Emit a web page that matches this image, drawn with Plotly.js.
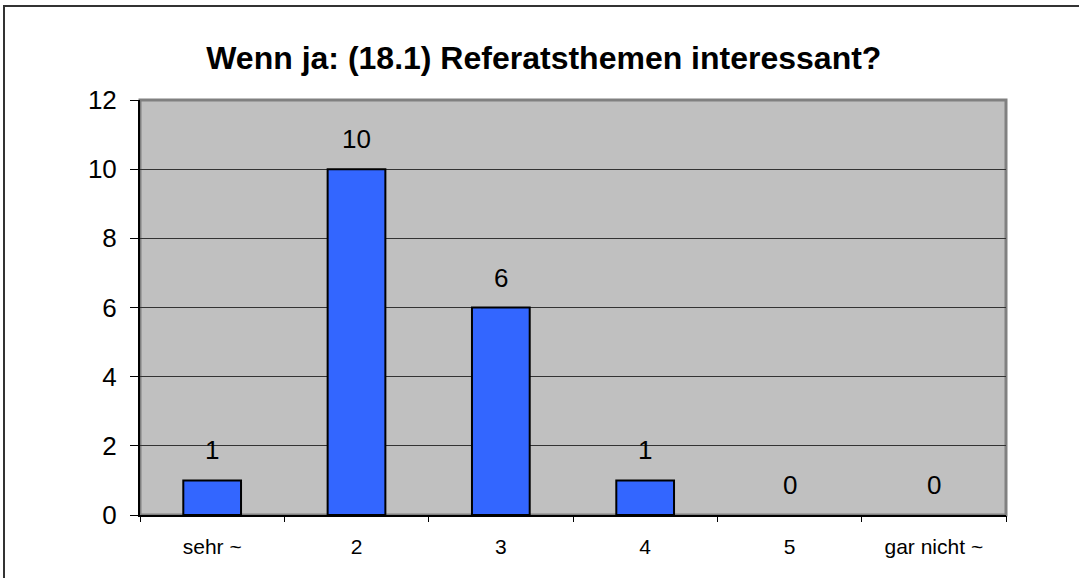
<!DOCTYPE html>
<html>
<head>
<meta charset="utf-8">
<script src="https://cdn.plot.ly/plotly-3.0.1.min.js"></script>
<style>
  html, body { margin: 0; padding: 0; background: #ffffff; }
  #chart { width: 1079px; height: 578px; }
</style>
</head>
<body>
<div id="chart"></div>
<script>
const categories = ["sehr ~", "2", "3", "4", "5", "gar nicht ~"];
const counts = [1, 10, 6, 1, 0, 0];
const yTicks = [0, 2, 4, 6, 8, 10, 12];
const titleText = "Wenn ja: (18.1) Referatsthemen interessant?";

const font = "Liberation Sans, Arial, sans-serif";
const idx = categories.map((c, i) => i);

const trace = {
  type: "bar",
  x: idx,
  y: counts,
  marker: {
    color: "#3366FF",
    line: { color: "#000000", width: counts.map(v => (v > 0 ? 2 : 0)) }
  },
  hoverinfo: "skip"
};

const annotations = idx.map(i => ({
  x: i, y: counts[i], xref: "x", yref: "y",
  text: String(counts[i]),
  showarrow: false, yanchor: "bottom", yshift: 13,
  font: { family: font, size: 26, color: "#000000" }
}));

const layout = {
  width: 1079, height: 578,
  margin: { l: 140, r: 73, t: 100, b: 63 },
  paper_bgcolor: "#ffffff",
  plot_bgcolor: "#C0C0C0",
  showlegend: false,
  bargap: 0.6,
  title: {
    text: "<b>" + titleText + "</b>",
    font: { family: font, size: 32, color: "#000000" },
    x: 0.504, xanchor: "center", y: 0.9, yanchor: "middle"
  },
  xaxis: {
    type: "linear",
    range: [-0.5, categories.length - 0.5],
    tickmode: "array",
    tickvals: idx,
    ticktext: categories,
    ticks: "",
    showline: true, linecolor: "#000000", linewidth: 2,
    showgrid: false, zeroline: false,
    tickfont: { family: font, size: 21, color: "#000000" },
    ticklabelstandoff: 12,
    fixedrange: true
  },
  xaxis2: {
    overlaying: "x", matches: "x",
    range: [-0.5, categories.length - 0.5],
    tickmode: "array",
    tickvals: idx.concat([categories.length]).map(i => i - 0.5),
    ticktext: idx.concat([categories.length]).map(() => ""),
    ticks: "outside", ticklen: 6, tickcolor: "#000000", tickwidth: 1,
    showline: false, showgrid: false, zeroline: false,
    anchor: "y", side: "bottom",
    fixedrange: true
  },
  yaxis: {
    range: [0, 12],
    tickvals: yTicks,
    ticks: "outside", ticklen: 8, tickcolor: "#000000", tickwidth: 1,
    showline: true, linecolor: "#000000", linewidth: 2,
    showgrid: true, gridcolor: "#333333", gridwidth: 1,
    zeroline: false,
    tickfont: { family: font, size: 26, color: "#000000" },
    ticklabelstandoff: 8,
    fixedrange: true
  },
  annotations: annotations,
  shapes: [
    { type: "rect", xref: "paper", yref: "paper", x0: 0, x1: 1, y0: 0, y1: 1,
      line: { color: "#808080", width: 3 }, layer: "below" },
    { type: "rect", xref: "paper", yref: "paper",
      x0: (4 - 140) / 866, x1: 1.3, y0: -0.3, y1: (515 - 6) / 415,
      line: { color: "#333333", width: 2 }, fillcolor: "rgba(0,0,0,0)", layer: "above" }
  ]
};

const tickTrace = { type: "scatter", x: [], y: [], xaxis: "x2", yaxis: "y", hoverinfo: "skip", showlegend: false };

Plotly.newPlot("chart", [trace, tickTrace], layout, { displayModeBar: false, staticPlot: true });
</script>
</body>
</html>
